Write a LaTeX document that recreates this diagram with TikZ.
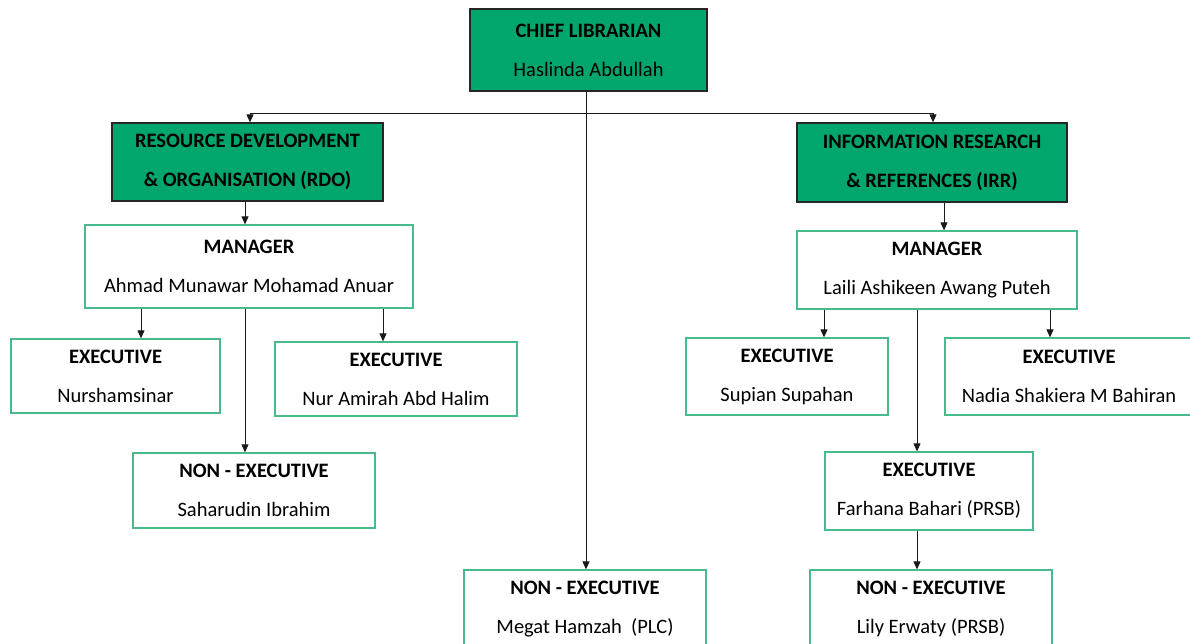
\documentclass[tikz,border=0pt]{standalone}
\usepackage{fontspec}
\setmainfont{Carlito}
\usetikzlibrary{arrows.meta}
\definecolor{headgreen}{RGB}{0,166,107}
\definecolor{edgegreen}{RGB}{70,188,138}
\begin{document}
\begin{tikzpicture}[x=1pt,y=-1pt,
    headbox/.style={draw=black!85,line width=1.3pt,fill=headgreen,align=center,
      font=\fontsize{20.5}{39}\selectfont,inner sep=0pt},
    staffbox/.style={draw=edgegreen,line width=1.3pt,fill=white,align=center,
      font=\fontsize{20.5}{39}\selectfont,inner sep=0pt},
    arr/.style={-{Triangle[length=8pt,width=7pt]},line width=1pt,black!90}]
  \useasboundingbox (0,0) rectangle (1190,643);
  \clip (0,0) rectangle (1190,643);
  % head and departments
  \node[headbox,minimum width=237,minimum height=82] (chief) at (588.5,50)
    {\textbf{CHIEF LIBRARIAN}\\Haslinda Abdullah};
  \node[headbox,minimum width=271,minimum height=78] (rdo) at (247.5,162)
    {\textbf{RESOURCE DEVELOPMENT}\\\textbf{\& ORGANISATION (RDO)}};
  \node[headbox,minimum width=270,minimum height=79] (irr) at (932,162.5)
    {\textbf{INFORMATION RESEARCH}\\\textbf{\& REFERENCES (IRR)}};
  % RDO staff
  \node[staffbox,minimum width=328,minimum height=83] (mgrL) at (249,266.5)
    {\textbf{MANAGER}\\Ahmad Munawar Mohamad Anuar};
  \node[staffbox,minimum width=209,minimum height=74] (exL1) at (115.5,376)
    {\textbf{EXECUTIVE}\\Nurshamsinar};
  \node[staffbox,minimum width=242,minimum height=74] (exL2) at (396,379)
    {\textbf{EXECUTIVE}\\Nur Amirah Abd Halim};
  \node[staffbox,minimum width=242,minimum height=75] (nonL) at (254,490.5)
    {\textbf{NON - EXECUTIVE}\\Saharudin Ibrahim};
  \node[staffbox,minimum width=242,minimum height=78] (nonC) at (585,609)
    {\textbf{NON - EXECUTIVE}\\Megat Hamzah\ \ (PLC)};
  % IRR staff
  \node[staffbox,minimum width=280,minimum height=78] (mgrR) at (937,270)
    {\textbf{MANAGER}\\Laili Ashikeen Awang Puteh};
  \node[staffbox,minimum width=202,minimum height=77] (exR1) at (787,376.5)
    {\textbf{EXECUTIVE}\\Supian Supahan};
  \node[staffbox,minimum width=248,minimum height=77] (exR2) at (1069,376.5)
    {\textbf{EXECUTIVE}\\Nadia Shakiera M Bahiran};
  \node[staffbox,minimum width=208,minimum height=78] (exR3) at (929,491)
    {\textbf{EXECUTIVE}\\Farhana Bahari (PRSB)};
  \node[staffbox,minimum width=242,minimum height=78] (nonR) at (931,609)
    {\textbf{NON - EXECUTIVE}\\Lily Erwaty (PRSB)};
  % connectors
  \draw[line width=1pt,black!90] (250,113) -- (933,113);
  \draw[arr] (250,113) -- (rdo.north -| 250,0);
  \draw[arr] (933,113) -- (irr.north -| 933,0);
  \draw[arr] (chief.south -| 586,0) -- (nonC.north -| 586,0);
  \draw[arr] (rdo.south -| 245,0) -- (mgrL.north -| 245,0);
  \draw[arr] (mgrL.south -| 141,0) -- (exL1.north -| 141,0);
  \draw[arr] (mgrL.south -| 383,0) -- (exL2.north -| 383,0);
  \draw[arr] (mgrL.south -| 245,0) -- (nonL.north -| 245,0);
  \draw[arr] (irr.south -| 944,0) -- (mgrR.north -| 944,0);
  \draw[arr] (mgrR.south -| 824,0) -- (exR1.north -| 824,0);
  \draw[arr] (mgrR.south -| 1050,0) -- (exR2.north -| 1050,0);
  \draw[arr] (mgrR.south -| 917,0) -- (exR3.north -| 917,0);
  \draw[arr] (exR3.south -| 917,0) -- (nonR.north -| 917,0);
\end{tikzpicture}
\end{document}
